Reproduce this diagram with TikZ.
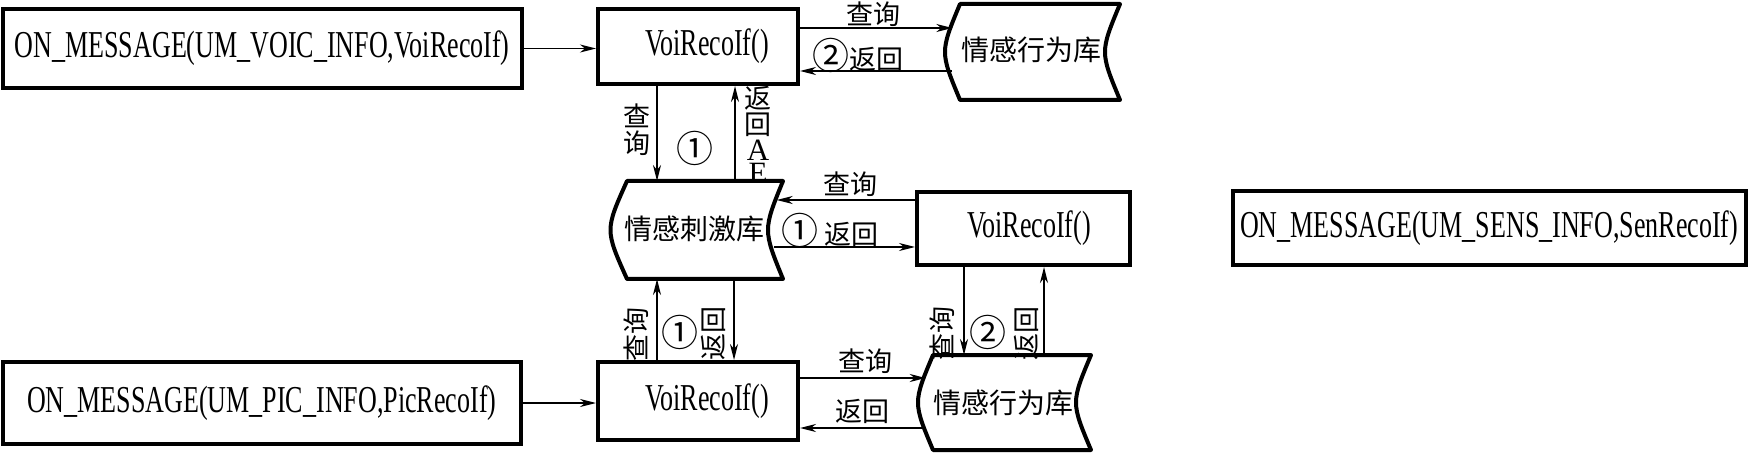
\documentclass[tikz,border=0pt]{standalone}
\usepackage{fontspec}
\setmainfont{Liberation Serif}[FakeStretch=0.685]
\newfontfamily\latn{Liberation Serif}
\newfontfamily\cjk{Noto Sans CJK SC}
\newcommand{\circnum}[1]{{\fontsize{37}{37}\selectfont #1}}
\usetikzlibrary{arrows.meta}
\begin{document}
\begin{tikzpicture}[x=1pt,y=-1pt,
  box/.style={draw, line width=4pt, inner sep=0pt, font=\fontsize{38}{40}\selectfont},
  dbline/.style={line width=4pt, line join=round},
  arr/.style={line width=1.6pt, -{Stealth[length=16pt,width=8pt,inset=5pt]}},
  lab/.style={inner sep=0pt, font=\cjk\fontsize{27}{28}\selectfont},
  dbtext/.style={inner sep=0pt, font=\cjk\fontsize{28}{30}\selectfont}]
\useasboundingbox (0,0) rectangle (1748,454);

% boxes
\node[box, minimum width=519.5pt, minimum height=79pt] (A) at (262.25,48.5) {ON\_MESSAGE(UM\_VOIC\_INFO,VoiRecoIf)};
\node[box, minimum width=200pt, minimum height=75pt] (B) at (698,46.5) {\hspace*{18pt}VoiRecoIf()};
\node[box, minimum width=213pt, minimum height=73pt] (C) at (1023.5,228.5) {\hspace*{11pt}VoiRecoIf()};
\node[box, minimum width=512.5pt, minimum height=74pt] (D) at (1489.25,228) {ON\_MESSAGE(UM\_SENS\_INFO,SenRecoIf)};
\node[box, minimum width=200pt, minimum height=78pt] (E) at (698,401) {\hspace*{18pt}VoiRecoIf()};
\node[box, minimum width=518.5pt, minimum height=82pt] (F) at (261.75,403) {ON\_MESSAGE(UM\_PIC\_INFO,PicRecoIf)};

% stored-data shapes
\draw[dbline] (960,4) -- (1120,4) .. controls (1100,52) .. (1120,100) -- (960,100) .. controls (940,52) .. (960,4) -- cycle;
\node[dbtext] (tdb) at (1031,50) {情感行为库};
\draw[dbline] (627,181) -- (783,181) .. controls (763,230) .. (783,279) -- (627,279) .. controls (605,230) .. (627,181) -- cycle;
\node[dbtext] (mdb) at (694,229) {情感刺激库};
\draw[dbline] (933,355) -- (1091,355) .. controls (1071,402.5) .. (1091,450) -- (933,450) .. controls (913,402.5) .. (933,355) -- cycle;
\node[dbtext] (bdb) at (1003,403) {情感行为库};

% connector end points on the shapes
\coordinate (tdbA) at (952.3,28);
\coordinate (tdbB) at (951.6,71);
\coordinate (mTopL) at (657,181);
\coordinate (mTopR) at (735,181);
\coordinate (mRA) at (776.7,200);
\coordinate (mRB) at (774.2,247);
\coordinate (mBotL) at (657,279);
\coordinate (mBotR) at (734,279);
\coordinate (bTopL) at (964,355);
\coordinate (bTopR) at (1044,355);
\coordinate (bLA) at (925.7,378);
\coordinate (bLB) at (925.9,428);

% connectors
\draw[arr] (A.east) -- (B.west |- A.east);
\draw[arr] (B.east |- tdbA) -- (tdbA);
\draw[arr] (tdbB) -- (B.east |- tdbB);
\draw[arr] (B.south -| mTopL) -- (mTopL);
\draw[arr] (mTopR) -- (B.south -| mTopR);
\draw[arr] (C.west |- mRA) -- (mRA);
\draw[arr] (mRB) -- (C.west |- mRB);
\draw[arr] (E.north -| mBotL) -- (mBotL);
\draw[arr] (mBotR) -- (E.north -| mBotR);
\draw[arr] (C.south -| bTopL) -- (bTopL);
\draw[arr] (bTopR) -- (C.south -| bTopR);
\draw[arr] (F.east) -- (E.west |- F.east);
\draw[arr] (E.east |- bLA) -- (bLA);
\draw[arr] (bLB) -- (E.east |- bLB);

% labels
\node[lab] (l1) at (873,14) {查询};
\node[lab] (l2) at (858,55) {\circnum{②}返回};
\node[lab] (l3) at (637,130) {\shortstack{查\\询}};
\node[lab] (l4) at (695,148) {\circnum{①}};
\node[lab] (l5) at (758,135) {\shortstack{返\\回\\{\latn\fontsize{31}{31}\selectfont A}\\{\latn\fontsize{31}{31}\selectfont E}}};
\node[lab] (l6) at (850,184) {查询};
\node[lab] (l7) at (830,230) {\circnum{①} 返回};
\node[lab, rotate=90] (l8) at (636,334) {查询};
\node[lab] (l9) at (680,332) {\circnum{①}};
\node[lab, rotate=90] (l10) at (713,333) {返回};
\node[lab, rotate=90] (l11) at (942,333) {查询};
\node[lab] (l12) at (988,332) {\circnum{②}};
\node[lab, rotate=90] (l13) at (1026,333) {返回};
\node[lab] (l14) at (865,361) {查询};
\node[lab] (l15) at (862,411) {返回};
\end{tikzpicture}
\end{document}
